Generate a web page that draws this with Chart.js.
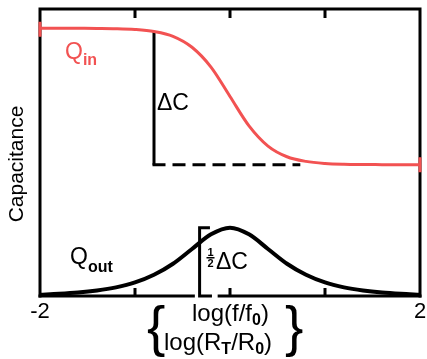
<!DOCTYPE html>
<html>
<head>
<meta charset="utf-8">
<script src="https://cdn.jsdelivr.net/npm/chart.js@4/dist/chart.umd.min.js"></script>
<style>
html,body{margin:0;padding:0;background:#fff;}
#wrap{width:427px;height:359px;}
</style>
</head>
<body>
<div id="wrap"><canvas id="c" width="427" height="359"></canvas></div>
<script>
// ---- data (x = log(f/f0), y in units of ΔC) ----
const uVals = [-2,-1.8,-1.6,-1.4,-1.2,-1,-0.8,-0.6,-0.4,-0.2,0,0.2,0.4,0.6,0.8,1,1.2,1.4,1.6,1.8,2];
const qIn   = [1.96,1.96,1.959,1.958,1.956,1.95,1.935,1.90,1.82,1.675,1.46,1.245,1.097,1.019,0.985,0.97,0.964,0.962,0.961,0.96,0.96];
const qOut  = [0.01,0.016,0.025,0.04,0.063,0.099,0.155,0.236,0.344,0.451,0.5,0.451,0.344,0.236,0.155,0.099,0.063,0.04,0.025,0.016,0.01];
const xTickValues = [-2,-1,0,1,2];
const xTickLabels = ['-2','','','','2'];
// annotation anchors (data units)
const deltaU = -0.8;      // ΔC marker
const dashEndU = 0.74;    // end of dashed baseline
const halfU = -0.32;      // ½ΔC bracket
const halfCapU = -0.19;

const RED = '#f25252';
const FONT = '"Liberation Sans", Arial, sans-serif';

const qInHigh = qIn[uVals.indexOf(deltaU)];
const qInLow = qIn[qIn.length - 1];
const qOutPeak = Math.max(...qOut);

const pts = (xs, ys) => xs.map((x, i) => ({x: x, y: ys[i]}));

const deco = {
  id: 'deco',
  beforeDatasetsDraw(chart) {
    const {ctx, chartArea: a, scales: {x, y}} = chart;
    ctx.save();
    ctx.strokeStyle = '#000';
    ctx.lineWidth = 3;
    ctx.lineCap = 'butt';
    // frame (bottom broken around bracket)
    ctx.beginPath();
    ctx.moveTo(a.left, a.bottom + 1.5);
    ctx.lineTo(a.left, a.top);
    ctx.lineTo(a.right, a.top);
    ctx.lineTo(a.right, a.bottom + 1.5);
    ctx.stroke();
    ctx.beginPath();
    ctx.moveTo(a.left - 1.5, a.bottom);
    ctx.lineTo(x.getPixelForValue(-0.37), a.bottom);
    ctx.moveTo(x.getPixelForValue(-0.13), a.bottom);
    ctx.lineTo(a.right + 1.5, a.bottom);
    ctx.stroke();
    // inner tick marks
    ctx.beginPath();
    xTickValues.slice(1, -1).forEach(v => {
      const px = x.getPixelForValue(v);
      ctx.moveTo(px, a.top); ctx.lineTo(px, a.top + 9);
      ctx.moveTo(px, a.bottom); ctx.lineTo(px, a.bottom - 8);
    });
    ctx.stroke();
    // ΔC marker
    const xd = x.getPixelForValue(deltaU);
    ctx.beginPath();
    ctx.moveTo(xd, y.getPixelForValue(qInHigh));
    ctx.lineTo(xd, y.getPixelForValue(qInLow));
    ctx.stroke();
    ctx.setLineDash([13, 7]);
    ctx.beginPath();
    ctx.moveTo(xd - 1.5, y.getPixelForValue(qInLow));
    ctx.lineTo(x.getPixelForValue(dashEndU), y.getPixelForValue(qInLow));
    ctx.stroke();
    ctx.setLineDash([]);
    // ½ΔC bracket
    const xh = x.getPixelForValue(halfU), xc = x.getPixelForValue(halfCapU);
    const yt = y.getPixelForValue(qOutPeak), yb = a.bottom;
    ctx.beginPath();
    ctx.moveTo(xc - 2, yt); ctx.lineTo(xh, yt); ctx.lineTo(xh, yb); ctx.lineTo(xc, yb);
    ctx.stroke();
    ctx.restore();
  },
  afterDatasetsDraw(chart) {
    const {ctx, chartArea: a, scales: {x, y}} = chart;
    ctx.save();
    // red end caps on Q_in
    ctx.strokeStyle = RED;
    ctx.lineWidth = 3;
    ctx.beginPath();
    const y0 = y.getPixelForValue(qIn[0]) + 1, y1 = y.getPixelForValue(qIn[qIn.length - 1]);
    ctx.moveTo(x.getPixelForValue(uVals[0]), y0 - 7.5);
    ctx.lineTo(x.getPixelForValue(uVals[0]), y0 + 7.5);
    ctx.moveTo(x.getPixelForValue(uVals[uVals.length - 1]), y1 - 7.5);
    ctx.lineTo(x.getPixelForValue(uVals[uVals.length - 1]), y1 + 7.5);
    ctx.stroke();

    const runs = (x0, base, list, color) => {
      let cx = x0;
      list.forEach(([t, f, dy]) => {
        ctx.font = f;
        ctx.fillStyle = color;
        ctx.fillText(t, cx, base + (dy || 0));
        cx += ctx.measureText(t).width;
      });
    };
    ctx.textBaseline = 'alphabetic';
    ctx.textAlign = 'left';
    runs(65, 59, [['Q', '23px ' + FONT], ['in', 'bold 16px ' + FONT, 6]], RED);
    runs(70, 264, [['Q', '23px ' + FONT], ['out', 'bold 16px ' + FONT, 8]], '#000');
    runs(157, 110, [['ΔC', '23px ' + FONT]], '#000');
    // ½ΔC
    ctx.fillStyle = '#000';
    ctx.font = 'bold 11px ' + FONT;
    ctx.textAlign = 'center';
    ctx.fillText('1', 210.5, 256);
    ctx.fillText('2', 210.5, 267);
    ctx.fillRect(206.5, 257, 8, 1.5);
    ctx.textAlign = 'left';
    runs(216, 269, [['ΔC', '23px ' + FONT]], '#000');
    // axis description
    runs(192, 321, [['log(f/f', '24px ' + FONT], ['0', 'bold 16px ' + FONT, 4], [')', '24px ' + FONT]], '#000');
    runs(164, 350, [['log(R', '24px ' + FONT], ['T', 'bold 16px ' + FONT, 4], ['/R', '24px ' + FONT], ['0', 'bold 16px ' + FONT, 4], [')', '24px ' + FONT]], '#000');
    runs(147, 345, [['{', '55px ' + FONT]], '#000');
    runs(285, 345, [['}', '55px ' + FONT]], '#000');
    // y title
    ctx.save();
    ctx.translate(23, 164);
    ctx.rotate(-Math.PI / 2);
    ctx.textAlign = 'center';
    ctx.font = '21px ' + FONT;
    ctx.fillStyle = '#000';
    ctx.fillText('Capacitance', 0, 0);
    ctx.restore();
    ctx.restore();
  }
};

new Chart(document.getElementById('c'), {
  type: 'line',
  data: {
    datasets: [
      {label: 'Q_in', data: pts(uVals, qIn), borderColor: RED, borderWidth: 3, pointRadius: 0, cubicInterpolationMode: 'monotone', fill: false},
      {label: 'Q_out', data: pts(uVals, qOut), borderColor: '#000', borderWidth: 4, pointRadius: 0, cubicInterpolationMode: 'monotone', fill: false}
    ]
  },
  options: {
    responsive: false,
    animation: false,
    events: [],
    layout: {padding: {left: 40, right: 7, top: 9, bottom: 0}},
    plugins: {legend: {display: false}, tooltip: {enabled: false}, title: {display: false}},
    scales: {
      x: {
        type: 'linear', min: -2, max: 2,
        grid: {display: false},
        border: {display: false},
        afterBuildTicks: s => { s.ticks = xTickValues.map(v => ({value: v})); },
        afterFit: s => { s.height = 63; },
        ticks: {
          autoSkip: false, maxRotation: 0, padding: -5,
          color: '#000',
          font: {family: FONT, size: 22},
          callback: (v) => xTickLabels[xTickValues.indexOf(v)] ?? ''
        }
      },
      y: {type: 'linear', min: 0, max: 2.1, display: false}
    }
  },
  plugins: [deco]
});
</script>
</body>
</html>
